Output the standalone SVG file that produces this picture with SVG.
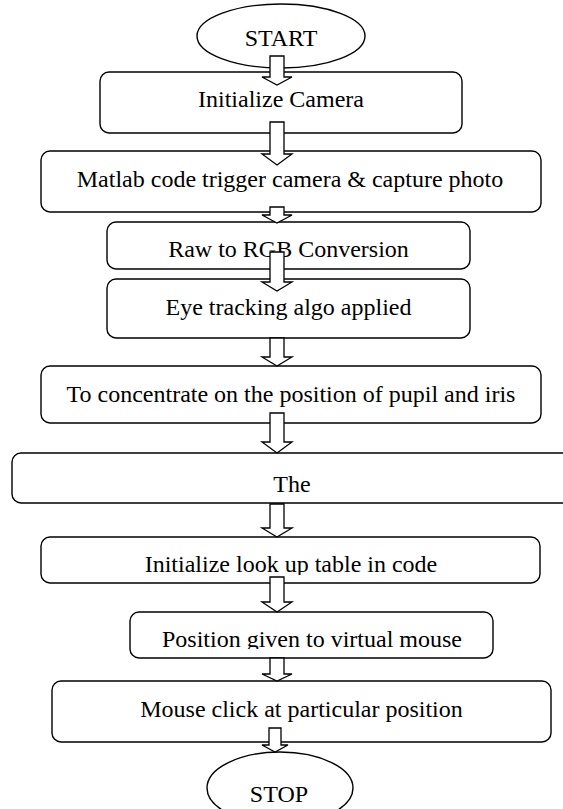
<svg xmlns="http://www.w3.org/2000/svg" width="563" height="809" viewBox="0 0 563 809">
<style>
.box{fill:#fff;stroke:#000;stroke-width:1.4}
.arr{fill:#fff;stroke:#000;stroke-width:1.3;stroke-linejoin:miter}
text{font-family:"Liberation Serif","Times New Roman",serif;font-size:24px;fill:#000;text-anchor:middle}
</style>
<defs>
<clipPath id="clipLook"><rect x="41" y="537" width="499" height="38"/></clipPath>
<clipPath id="clipPos"><rect x="130" y="612" width="363" height="37"/></clipPath>
</defs>
<rect width="563" height="809" fill="#fff"/>
<g id="start"><ellipse class="box" cx="281" cy="36" rx="84" ry="32"/><text x="281" y="46">START</text></g>
<g id="init-camera"><rect class="box" x="100" y="72" width="362" height="61" rx="9"/><text x="281" y="107">Initialize Camera</text></g>
<g id="matlab"><rect class="box" x="41" y="151" width="500" height="61" rx="9"/><text x="290" y="187">Matlab code trigger camera &amp; capture photo</text></g>
<g id="raw-rgb"><rect class="box" x="107" y="222" width="363" height="47" rx="9"/><text x="288.5" y="257">Raw to RGB Conversion</text></g>
<g id="eye-tracking"><rect class="box" x="107" y="279" width="363" height="59" rx="9"/><text x="288.5" y="315">Eye tracking algo applied</text></g>
<g id="concentrate"><rect class="box" x="41" y="366" width="500" height="57" rx="9"/><text x="291" y="402">To concentrate on the position of pupil and iris</text></g>
<g id="the"><rect class="box" x="12" y="453" width="562" height="50" rx="9"/><text x="292" y="492">The</text></g>
<g id="lookup"><rect class="box" x="41" y="537" width="499" height="46" rx="9"/><text x="291" y="572" clip-path="url(#clipLook)">Initialize look up table in code</text></g>
<g id="position"><rect class="box" x="130" y="612" width="363" height="46" rx="9"/><text x="312" y="647" clip-path="url(#clipPos)">Position given to virtual mouse</text></g>
<g id="mouse-click"><rect class="box" x="52" y="681" width="499" height="61" rx="9"/><text x="301.5" y="717">Mouse click at particular position</text></g>
<g id="stop"><ellipse class="box" cx="280" cy="788" rx="73" ry="36"/><text x="279" y="802">STOP</text></g>
<g id="connectors">
<polygon class="arr" points="270,56 284,56 284,77 292,77 277,85 262,77 270,77"/>
<polygon class="arr" points="270,122 284,122 284,154 292,154 277,165 262,154 270,154"/>
<polygon class="arr" points="270,207 284,207 284,215 292,215 277,223 262,215 270,215"/>
<polygon class="arr" points="270,252 284,252 284,282 292,282 277,291 262,282 270,282"/>
<polygon class="arr" points="270,338 284,338 284,357 292,357 277,366 262,357 270,357"/>
<polygon class="arr" points="270,413 284,413 284,442 292,442 277,453 262,442 270,442"/>
<polygon class="arr" points="270,504 284,504 284,528 292,528 277,537 262,528 270,528"/>
<polygon class="arr" points="270,577 284,577 284,602 292,602 277,612 262,602 270,602"/>
<polygon class="arr" points="270,658 284,658 284,674 292,674 277,681 262,674 270,674"/>
<polygon class="arr" points="269,728 281,728 281,745 288,745 275,752 262,745 269,745"/>
</g>
</svg>
